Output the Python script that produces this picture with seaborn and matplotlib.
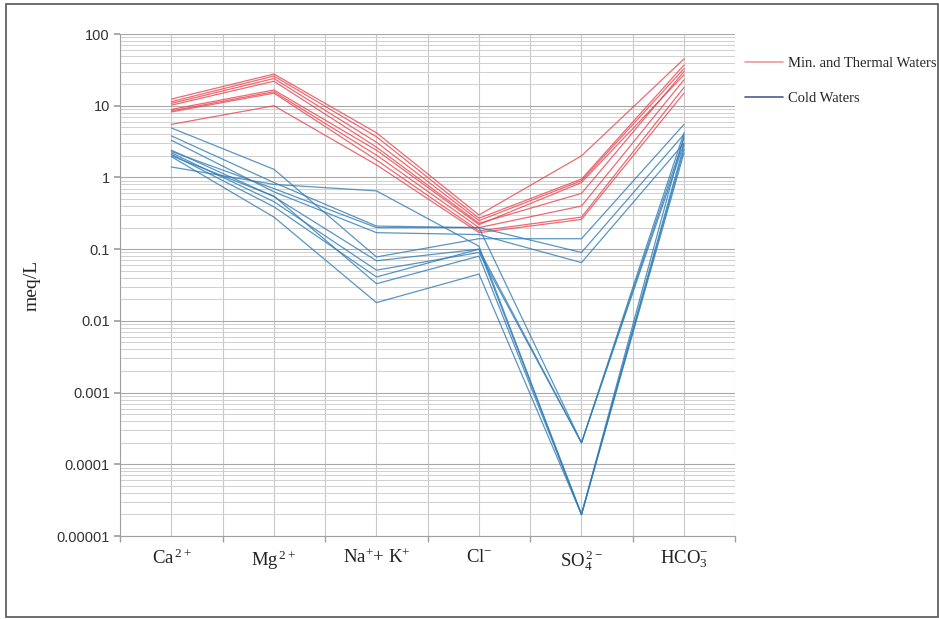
import matplotlib
matplotlib.use('Agg')
import matplotlib.pyplot as plt
import matplotlib.ticker as mticker
from matplotlib.lines import Line2D
from matplotlib.patches import Rectangle
import pandas as pd
import seaborn as sns

ions = ['Ca', 'Mg', 'NaK', 'Cl', 'SO4', 'HCO3']
ion_labels = [r'Ca$^{\,2+}$', r'Mg$^{\,2+}$', r'Na$^{+}$+ K$^{+}$', r'Cl$^{-}$',
              r'SO$_{4}^{\,2-}$', r'HCO$_{3}^{-}$']

# meq/L, one list per sample, in the order of ions
thermal = [
    [12.4, 27.7, 4.2, 0.30, 2.0, 45],
    [11.4, 26.0, 3.7, 0.27, 0.95, 37],
    [10.8, 24.0, 3.1, 0.25, 0.90, 33],
    [10.2, 22.0, 2.65, 0.23, 0.60, 30],
    [8.9, 16.6, 2.4, 0.22, 0.85, 27],
    [8.5, 15.7, 2.05, 0.20, 0.40, 23],
    [8.2, 15.0, 1.75, 0.18, 0.28, 18],
    [5.5, 10.0, 1.5, 0.17, 0.26, 15],
]
cold = [
    [4.9, 1.3, 0.078, 0.14, 0.14, 5.5],
    [3.8, 0.85, 0.21, 0.20, 0.09, 4.0],
    [3.3, 0.63, 0.17, 0.16, 0.065, 3.0],
    [2.4, 0.54, 0.069, 0.10, 0.0002, 3.5],
    [2.2, 0.46, 0.051, 0.09, 0.0002, 3.0],
    [2.1, 0.39, 0.041, 0.10, 0.00002, 2.5],
    [2.0, 0.55, 0.033, 0.08, 0.00002, 2.8],
    [1.95, 0.28, 0.018, 0.045, 0.00002, 2.2],
    [1.4, 0.80, 0.65, 0.11, 0.00002, 3.8],
    [2.3, 0.70, 0.20, 0.20, 0.0002, 4.2],
]

groups = ['Min. and Thermal Waters', 'Cold Waters']

rows = []
for g, samples in zip(groups, [thermal, cold]):
    for k, vals in enumerate(samples):
        for i, v in enumerate(vals):
            rows.append({'group': g, 'sample': f'{g}-{k}', 'pos': i, 'meq': v})
df = pd.DataFrame(rows)

sns.set_theme(style='white')
plt.rcParams['mathtext.fontset'] = 'custom'
plt.rcParams['mathtext.rm'] = 'Liberation Serif'
plt.rcParams['mathtext.it'] = 'Liberation Serif:italic'

fig = plt.figure(figsize=(9.39, 6.19), dpi=100)
ax = fig.add_axes([0.128, 0.134, 0.655, 0.811])

palette = {groups[0]: '#e8464f', groups[1]: '#2f7cb6'}
sns.lineplot(data=df, x='pos', y='meq', hue='group', units='sample',
             estimator=None, palette=palette, linewidth=0.9, alpha=0.8,
             legend=False, ax=ax)

ax.set_yscale('log')
ax.set_ylim(1e-5, 100)
ax.set_xlim(-0.5, 5.5)

ax.yaxis.set_major_locator(mticker.LogLocator(base=10, numticks=10))
ax.yaxis.set_minor_locator(mticker.LogLocator(base=10, subs=range(2, 10), numticks=10))
ax.yaxis.set_major_formatter(mticker.FuncFormatter(lambda v, p: f'{v:g}' if v >= 1e-4 else '0.00001'))
ax.yaxis.set_minor_formatter(mticker.NullFormatter())

ax.set_xticks(range(6))
ax.set_xticks([i + 0.5 for i in range(-1, 6)], minor=True)
ax.set_xticklabels(ion_labels, fontsize=13.5, family='Liberation Serif', color='#222222')

ax.grid(which='major', axis='y', color='#a8a8a8', linewidth=0.8)
ax.grid(which='minor', axis='y', color='#d0d0d0', linewidth=0.7)
ax.grid(which='both', axis='x', color='#c8c8c8', linewidth=0.8)
ax.set_axisbelow(True)

for s in ['top', 'right']:
    ax.spines[s].set_visible(False)
for s in ['left', 'bottom']:
    ax.spines[s].set_color('#a0a0a0')
    ax.spines[s].set_linewidth(0.8)

ax.tick_params(axis='y', which='major', labelsize=10.5, labelcolor='#333333',
               length=4, color='#a0a0a0', left=True)
ax.tick_params(axis='y', which='minor', length=0)
ax.tick_params(axis='x', which='major', length=0, pad=9)
ax.tick_params(axis='x', which='minor', length=4, color='#a0a0a0', bottom=True)
for lbl in ax.get_yticklabels():
    lbl.set_family('Liberation Sans')

ax.set_xlabel('')
ax.set_ylabel('meq/L', fontsize=14, family='Liberation Serif', color='#222222')
ax.yaxis.set_label_coords(-0.13, 0.5)

handles = [Line2D([0], [0], color='#ee9ba0', lw=1.2),
           Line2D([0], [0], color='#4a5f8c', lw=1.2)]
leg = ax.legend(handles, groups, loc='upper left', bbox_to_anchor=(1.0, 0.975),
                frameon=False, prop={'family': 'Liberation Serif', 'size': 10.5},
                handlelength=2.6, handletextpad=0.3, labelspacing=1.5, borderaxespad=0.3)

fig.patches.append(Rectangle((0.006, 0.003), 0.993, 0.99, transform=fig.transFigure,
                             fill=False, edgecolor='#555555', linewidth=1.2))

fig.savefig('out.png', dpi=100)
